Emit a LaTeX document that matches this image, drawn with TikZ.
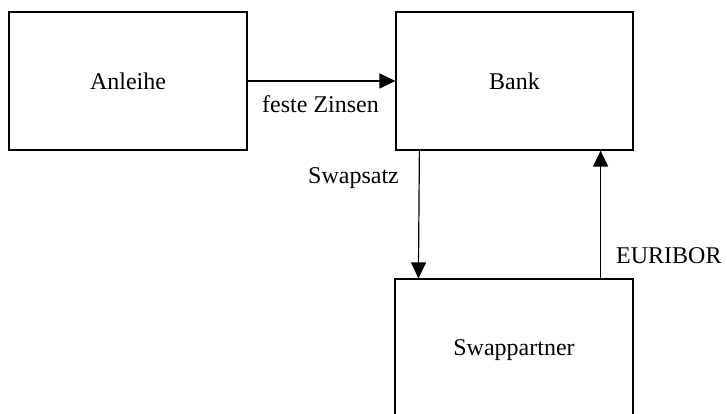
\documentclass[tikz,border=0pt]{standalone}
\usepackage{fontspec}
\setmainfont{Liberation Serif}
\usetikzlibrary{arrows.meta}
\begin{document}
\begin{tikzpicture}[x=1pt,y=1pt,
  box/.style={draw, line width=1.2pt, inner sep=0pt, font=\fontsize{24}{28}\selectfont},
  arr/.style={line width=1.2pt, -{Triangle[length=16pt,width=15pt]}},
  lbl/.style={font=\fontsize{24}{28}\selectfont, inner sep=0pt, anchor=base west}]
\useasboundingbox (0,0) rectangle (727,414);
\clip (0,0) rectangle (727,414);
\node[box, minimum width=238pt, minimum height=138pt] (anl) at (128,333) {Anleihe};
\node[box, minimum width=237pt, minimum height=138pt] (bank) at (514.5,333) {Bank};
\node[box, minimum width=238pt, minimum height=142pt] (swap) at (514,64) {Swappartner};
\draw[arr] (anl.east) -- (bank.west);
\draw[arr] ([xshift=24pt]bank.south west) -- ([xshift=24pt]swap.north west);
\draw[arr] ([xshift=-33pt]swap.north east) -- ([xshift=-33pt]bank.south east);
\node[lbl] (fz) at (262,301) {feste Zinsen};
\node[lbl] (sw) at (308,230) {Swapsatz};
\node[lbl] (eu) at (616,150) {EURIBOR};
\end{tikzpicture}
\end{document}
